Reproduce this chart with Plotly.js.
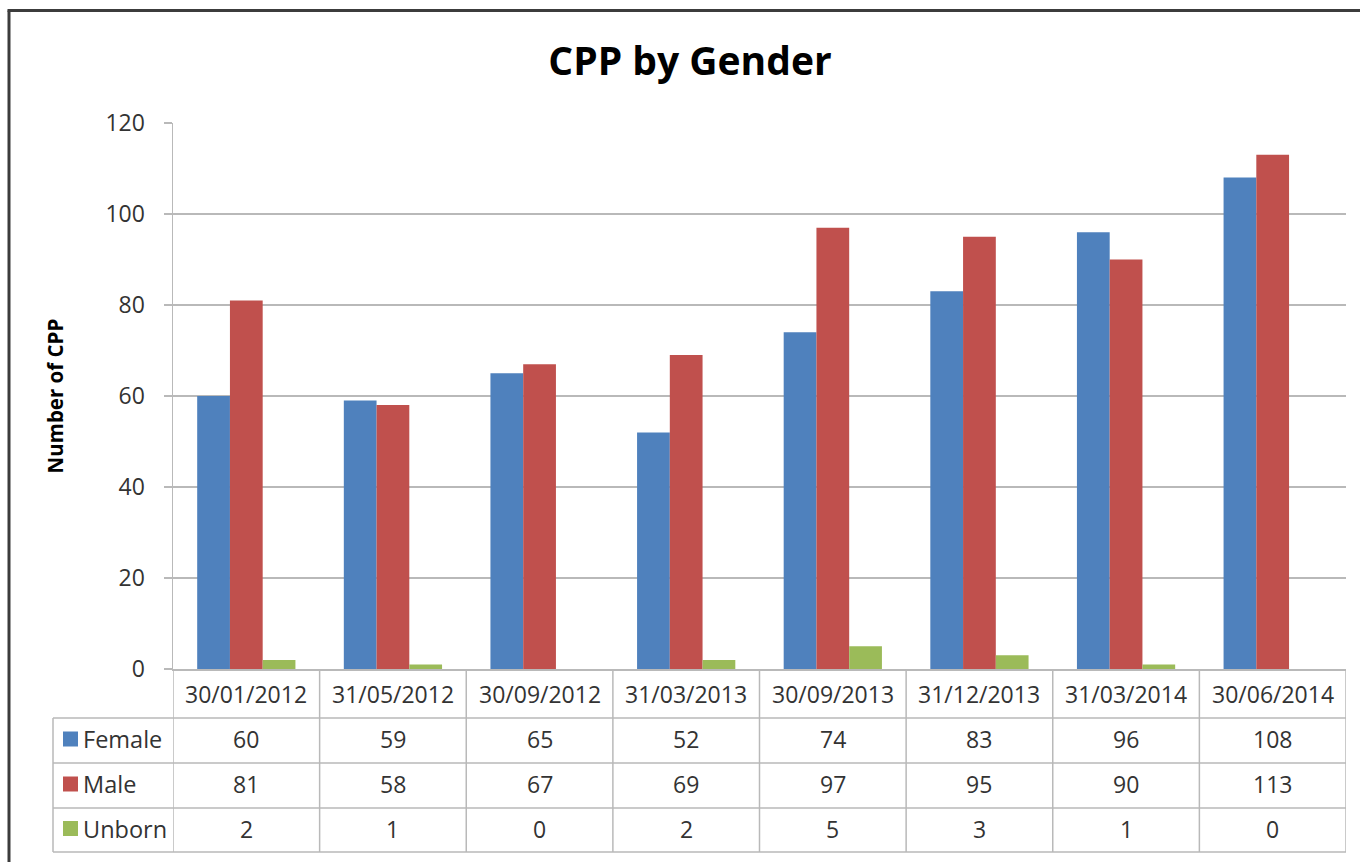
<!DOCTYPE html>
<html>
<head>
<meta charset="utf-8">
<script src="https://cdn.plot.ly/plotly-3.0.1.min.js"></script>
<style>html,body{margin:0;padding:0;background:#fff;}#chart{width:1360px;height:862px;}</style>
</head>
<body>
<div id="chart"></div>
<script>
// ---- data ----
const categories = ["30/01/2012","31/05/2012","30/09/2012","31/03/2013","30/09/2013","31/12/2013","31/03/2014","30/06/2014"];
const female = [60, 59, 65, 52, 74, 83, 96, 108];
const male   = [81, 58, 67, 69, 97, 95, 90, 113];
const unborn = [2, 1, 0, 2, 5, 3, 1, 0];
const seriesNames = ["Female", "Male", "Unborn"];
const seriesColors = ["#4f81bd", "#c0504d", "#9bbb59"];
const seriesValues = [female, male, unborn];
const yTicks = [0, 20, 40, 60, 80, 100, 120];

// ---- layout geometry ----
const W = 1360, H = 862;
const M = {l: 173, r: 14, t: 123, b: 193};
const PW = W - M.l - M.r, PH = H - M.t - M.b;
const px2x = px => (px - M.l) / PW;
const py2y = py => (H - M.b - py) / PH;
const FONT = "Open Sans, Liberation Sans, sans-serif";
const TXT = "#333333";
const GRID = "#b9b9b9";

const rowTops = [669, 718, 763, 808, 852]; // header, female, male, unborn, bottom
const tableLeft = 53, tableRight = M.l + PW;

const traces = seriesNames.map((n, i) => ({
  type: "bar",
  name: n,
  x: categories,
  y: seriesValues[i],
  marker: {color: seriesColors[i], line: {width: 0}},
  showlegend: false,
  hoverinfo: "x+y+name"
}));

const shapes = [];
const annotations = [];
const lineStyle = {color: GRID, width: 1.5};

// vertical column lines (category columns)
for (let i = 0; i <= categories.length; i++) {
  shapes.push({type: "line", xref: "x", yref: "paper", x0: i - 0.5, x1: i - 0.5,
    y0: py2y(rowTops[0]), y1: py2y(rowTops[4]), line: lineStyle});
}
// left legend column border
shapes.push({type: "line", xref: "paper", yref: "paper", x0: px2x(tableLeft), x1: px2x(tableLeft),
  y0: py2y(rowTops[1]), y1: py2y(rowTops[4]), line: lineStyle});
// horizontal row lines
for (let r = 1; r < rowTops.length; r++) {
  shapes.push({type: "line", xref: "paper", yref: "paper", x0: px2x(tableLeft), x1: px2x(tableRight),
    y0: py2y(rowTops[r]), y1: py2y(rowTops[r]), line: lineStyle});
}
// header labels
categories.forEach((c, i) => {
  annotations.push({xref: "x", yref: "paper", x: i, y: py2y((rowTops[0] + rowTops[1]) / 2),
    text: c, showarrow: false, xanchor: "center", yanchor: "middle",
    font: {family: FONT, size: 23, color: TXT}});
});
// data rows
seriesNames.forEach((n, s) => {
  const cy = (rowTops[s + 1] + rowTops[s + 2]) / 2 - 1.5;
  shapes.push({type: "rect", xref: "paper", yref: "paper",
    x0: px2x(63), x1: px2x(78), y0: py2y(cy + 7.5), y1: py2y(cy - 7.5),
    fillcolor: seriesColors[s], line: {width: 0}});
  annotations.push({xref: "paper", yref: "paper", x: px2x(81), y: py2y(cy),
    text: n, showarrow: false, xanchor: "left", yanchor: "middle",
    font: {family: FONT, size: 23.5, color: TXT}});
  seriesValues[s].forEach((v, i) => {
    annotations.push({xref: "x", yref: "paper", x: i, y: py2y(cy),
      text: String(v), showarrow: false, xanchor: "center", yanchor: "middle",
      font: {family: FONT, size: 23, color: TXT}});
  });
});
// outer chart border (left and top edges visible)
shapes.push({type: "line", xref: "paper", yref: "paper", x0: px2x(9), x1: px2x(9),
  y0: py2y(H + 5), y1: py2y(10.5), line: {color: "#3c3c3c", width: 3}});
shapes.push({type: "line", xref: "paper", yref: "paper", x0: px2x(7.5), x1: px2x(W + 5),
  y0: py2y(10.5), y1: py2y(10.5), line: {color: "#3c3c3c", width: 3}});

const layout = {
  width: W, height: H,
  margin: M,
  paper_bgcolor: "#ffffff",
  plot_bgcolor: "#ffffff",
  font: {family: FONT, color: TXT},
  title: {text: "<b>CPP by Gender</b>", x: 690 / W, xref: "container", xanchor: "center",
    y: 1 - 61 / H, yref: "container", yanchor: "middle",
    font: {family: FONT, size: 39, color: "#000000"}},
  barmode: "group",
  bargap: 0.33,
  bargroupgap: 0,
  xaxis: {
    type: "category",
    range: [-0.5, categories.length - 0.5],
    showticklabels: false,
    ticks: "",
    showgrid: false,
    showline: true, linecolor: GRID, linewidth: 1.5,
    zeroline: false,
    fixedrange: true
  },
  yaxis: {
    range: [0, 120],
    tickvals: yTicks,
    ticktext: yTicks.map(String),
    ticks: "outside", ticklen: 8, tickcolor: GRID, tickwidth: 1.5,
    ticklabelstandoff: 14,
    showline: true, linecolor: GRID, linewidth: 1.5,
    showgrid: true, gridcolor: GRID, gridwidth: 1.5,
    zeroline: false,
    tickfont: {family: FONT, size: 23, color: TXT},
    title: {text: "<b>Number of CPP</b>", standoff: 36,
      font: {family: FONT, size: 20.5, color: "#000000"}},
    automargin: false,
    fixedrange: true
  },
  shapes: shapes,
  annotations: annotations
};

Plotly.newPlot("chart", traces, layout, {displayModeBar: false, staticPlot: true});
</script>
</body>
</html>
